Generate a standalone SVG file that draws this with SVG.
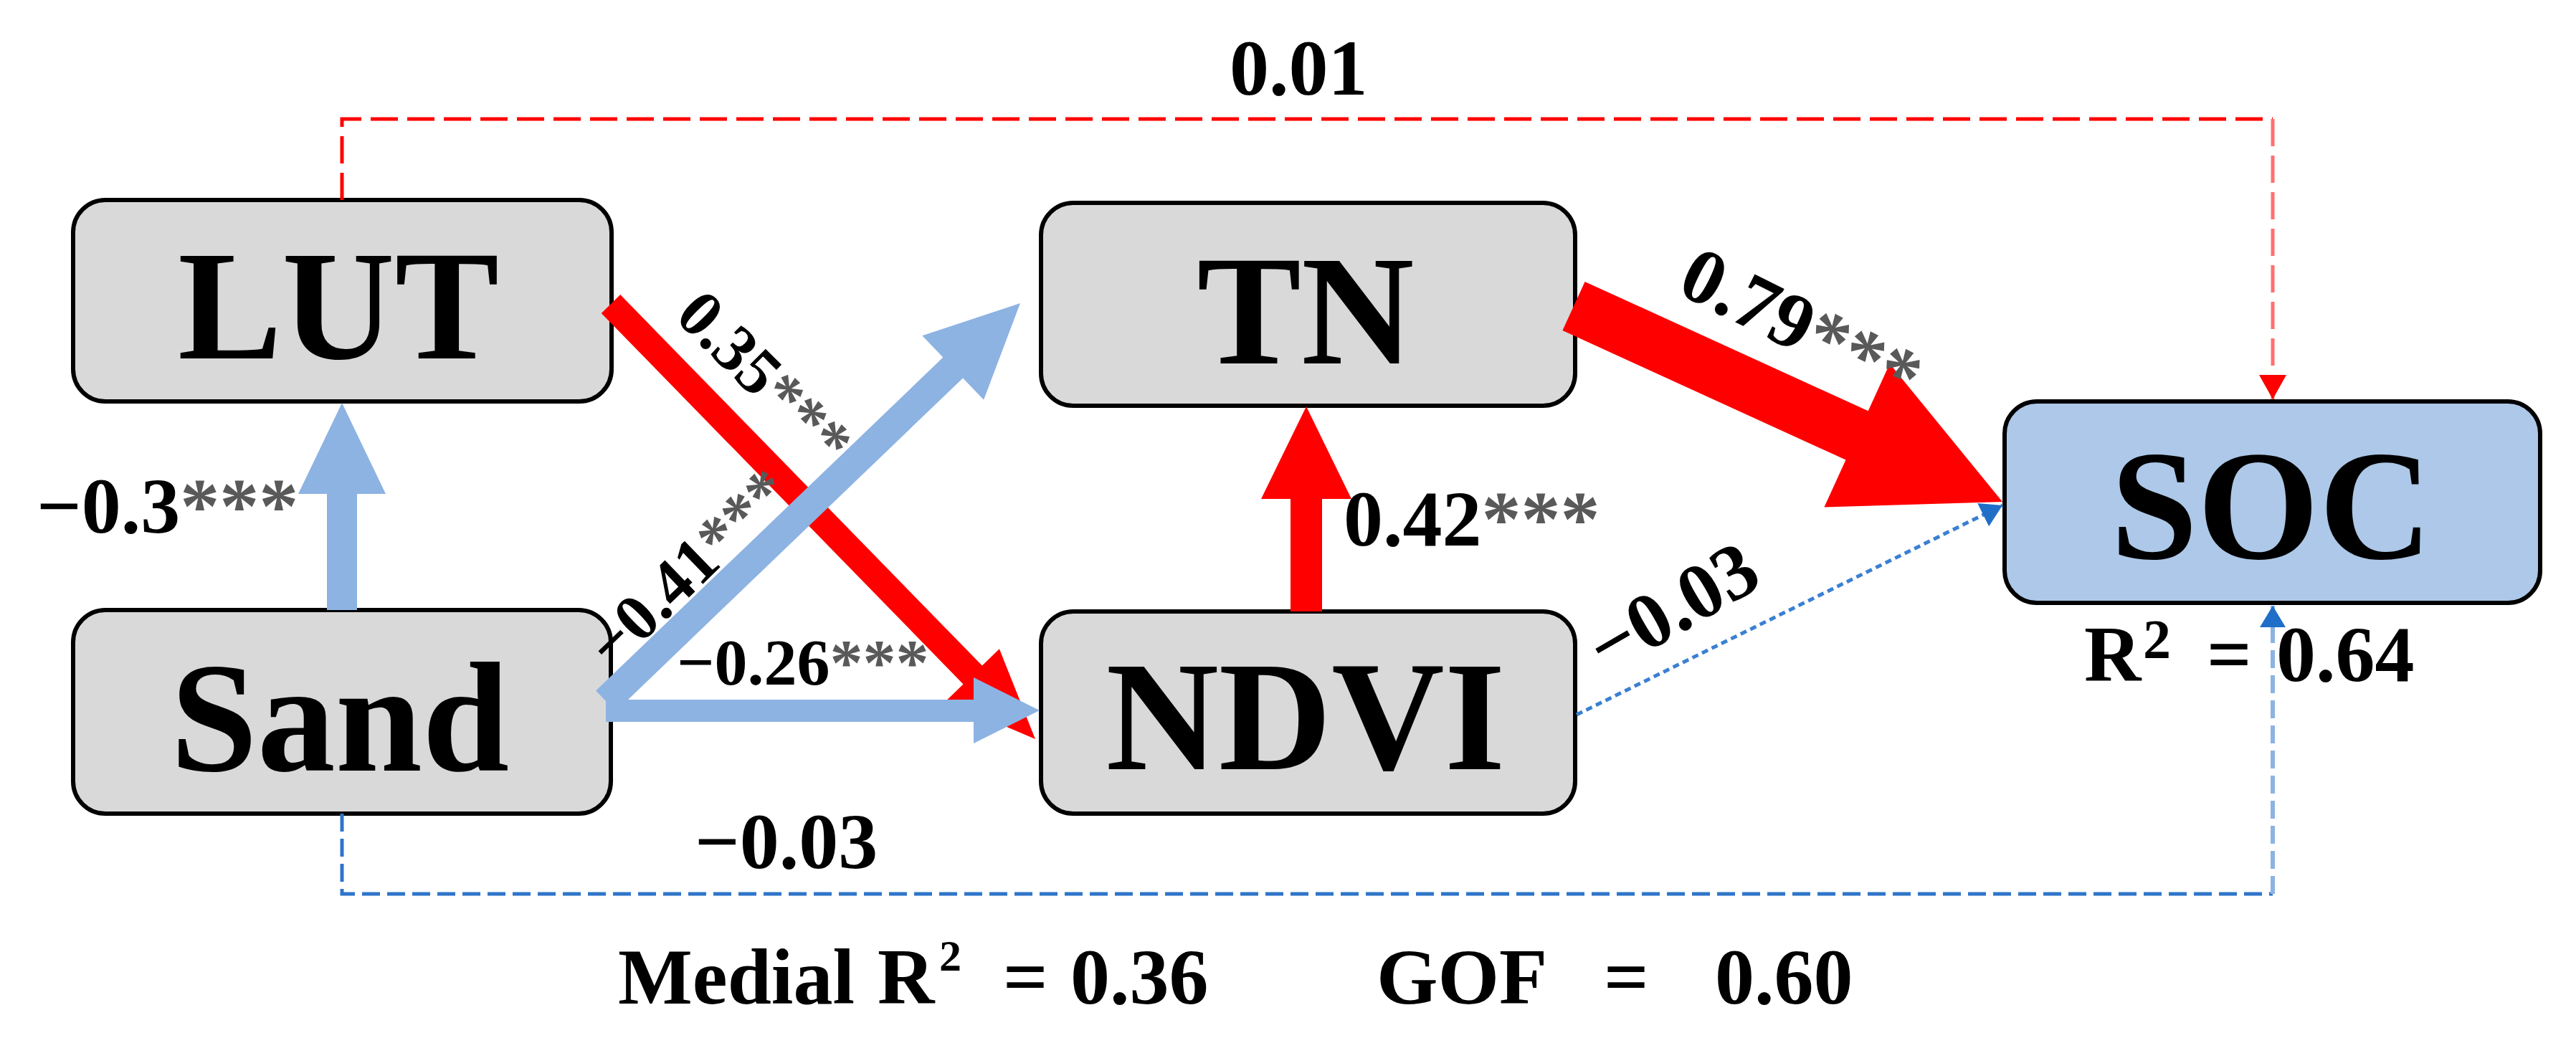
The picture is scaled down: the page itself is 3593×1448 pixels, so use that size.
<svg xmlns="http://www.w3.org/2000/svg" width="3593" height="1448" viewBox="0 0 3593 1448">
<style>
.t{font-family:"Liberation Serif","Times New Roman",serif;font-weight:bold;fill:#000}
.nt{font-size:218px;text-anchor:middle}
.lb{font-size:110px}
.sm{font-size:92px}
.st{fill:#595959}
.box{fill:#d9d9d9;stroke:#000;stroke-width:6}
.soc{fill:#adc8e8;stroke:#000;stroke-width:6}
.red{fill:#ff0000}
.blue{fill:#8db3e2}
.rd{fill:none;stroke:#ff0000;stroke-width:5;stroke-dasharray:38 13}
.rdl{fill:none;stroke:#ff7070;stroke-width:5;stroke-dasharray:38 13}
.bd{fill:none;stroke:#2e75c9;stroke-width:5;stroke-dasharray:25 10}
.bdl{fill:none;stroke:#8db3e2;stroke-width:6;stroke-dasharray:25 10}
.bdot{fill:none;stroke:#3a80d2;stroke-width:5;stroke-dasharray:9 6}
</style>
<defs>
<marker id="hr" markerUnits="userSpaceOnUse" viewBox="0 0 34 38" refX="34" refY="19" markerWidth="34" markerHeight="38" orient="auto"><path d="M0,0 L34,19 L0,38 z" fill="#ff0000"/></marker>
<marker id="hb" markerUnits="userSpaceOnUse" viewBox="0 0 30 36" refX="30" refY="18" markerWidth="30" markerHeight="36" orient="auto"><path d="M0,0 L30,18 L0,36 z" fill="#1f6fc8"/></marker>
</defs>
<rect width="3593" height="1448" fill="#fff"/>

<g id="LUT"><rect class="box" x="102" y="279" width="751" height="281" rx="45"/><text class="t nt" x="472" y="500">LUT</text></g>
<g id="Sand"><rect class="box" x="102" y="851" width="750" height="284" rx="45"/><text class="t nt" x="474" y="1075">Sand</text></g>
<g id="TN"><rect class="box" x="1452" y="283" width="745" height="283" rx="45"/><text class="t nt" x="1821" y="507">TN</text></g>
<g id="NDVI"><rect class="box" x="1452" y="853" width="745" height="282" rx="45"/><text class="t nt" x="1821" y="1073">NDVI</text></g>
<g id="SOC"><rect class="soc" x="2796" y="560" width="747" height="281" rx="45"/><text class="t nt" x="3168" y="779">SOC</text></g>

<g id="connectors">
<path class="rd" d="M477,279 V166 H3170"/>
<path class="rdl" d="M3170,166 V557" marker-end="url(#hr)"/>
<path class="bd" d="M477,1135 V1247 H3170"/>
<path class="bdl" d="M3170,1247 V845" marker-end="url(#hb)"/>
<path class="bdot" d="M2199,997 L2793,705" marker-end="url(#hb)"/>
<polygon class="red" points="865.2,411.1 1369.9,928.6 1393.9,905.2 1444,1031 1319.5,977.8 1343.5,954.4 838.8,436.9"/>
<polygon class="blue" points="831.1,963.6 1315.3,498.6 1286.3,468.3 1423,423 1372.1,557.7 1343.1,527.4 858.9,992.4"/>
<polygon class="blue" points="845,976 1358,976 1358,945 1450,991 1358,1037 1358,1007 845,1007"/>
<polygon class="blue" points="456,851 456,689 416,689 477,562 538,689 498,689 498,851"/>
<polygon class="red" points="1800,853 1800,696 1759,696 1822,567 1885,696 1844,696 1844,853"/>
<polygon class="red" points="2210.6,392.9 2605.7,573.3 2635.8,507.3 2793,700 2544.4,707.5 2574.5,641.5 2179.4,461.1"/>
</g>

<g id="labels">
<text class="t lb" x="1715" y="132">0.01</text>
<text class="t lb" x="51" y="743">−0.3<tspan class="st">***</tspan></text>
<text class="t sm" x="944" y="955">−0.26<tspan class="st">***</tspan></text>
<text class="t sm" text-anchor="middle" transform="translate(1045,549) rotate(45)">0.35<tspan class="st">***</tspan></text>
<text class="t sm" text-anchor="middle" transform="translate(981,814) rotate(-44)">−0.41<tspan class="st">***</tspan></text>
<text class="t lb" x="1874" y="761">0.42<tspan class="st">***</tspan></text>
<text class="t lb" text-anchor="middle" transform="translate(2496,487) rotate(26.5)">0.79<tspan class="st">***</tspan></text>
<text class="t lb" text-anchor="middle" transform="translate(2351,879) rotate(-30)">−0.03</text>
<text class="t lb" x="969" y="1211">−0.03</text>
<text class="t lb" x="2907" y="950">R</text>
<text class="t" font-size="78" x="2989" y="918">2</text>
<text class="t lb" x="3078" y="950">=</text>
<text class="t lb" x="3175" y="950">0.64</text>
<text class="t lb" x="862" y="1400">Medial</text>
<text class="t lb" x="1224" y="1400">R</text>
<text class="t" font-size="62" x="1310" y="1354">2</text>
<text class="t lb" x="1399" y="1400">=</text>
<text class="t lb" x="1493" y="1400">0.36</text>
<text class="t lb" x="1920" y="1400">GOF</text>
<text class="t lb" x="2237" y="1400">=</text>
<text class="t lb" x="2392" y="1400">0.60</text>
</g>
</svg>
